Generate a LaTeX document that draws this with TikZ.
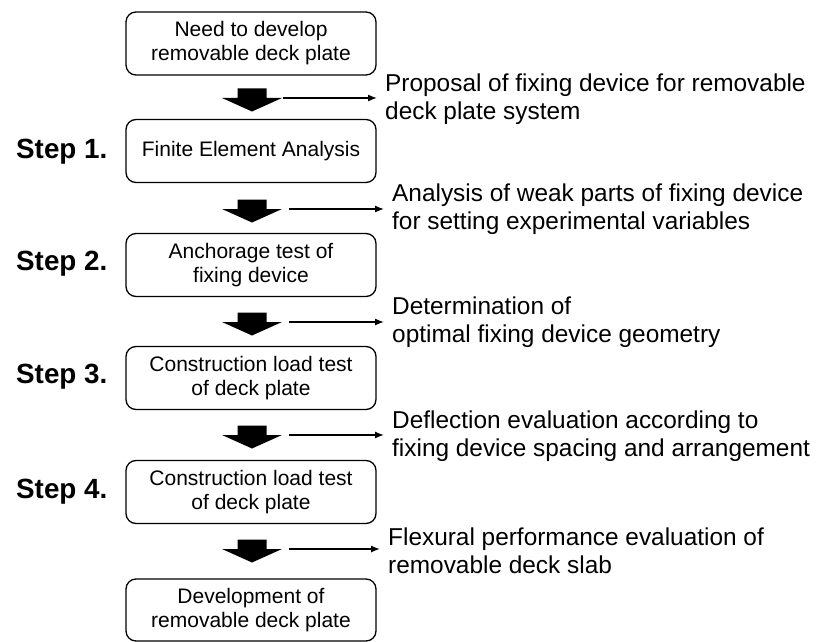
\documentclass[tikz,border=0pt]{standalone}
\usepackage{fontspec}
\setmainfont{Liberation Sans}
\usetikzlibrary{arrows.meta}
\begin{document}
\begin{tikzpicture}[x=1pt,y=-1pt,
  box/.style={draw, line width=1.3pt, rounded corners=10pt, minimum width=250pt,
    minimum height=63pt, align=center, inner sep=0pt, font=\fontsize{21}{24}\selectfont},
  steplabel/.style={anchor=west, inner sep=0pt, font=\bfseries\fontsize{27.8}{30}\selectfont},
  note/.style={anchor=west, inner xsep=8pt, inner ysep=0pt, align=left, font=\fontsize{24.4}{28}\selectfont},
  thinarrow/.style={line width=1.3pt, -{Latex[length=9pt,width=7pt]}, shorten >=0pt},
  bigarrow/.pic={\fill (-14.5,-9.5) -- (14.5,-9.5) -- (14.5,0) -- (30,0) -- (0,13.5) -- (-30,0) -- (-14.5,0) -- cycle;}
]
\useasboundingbox (0,0) rectangle (817,642);

% boxes
\node[box] (b0) at (251,43.5) {Need to develop\\removable deck plate};
\node[box] (b1) at (251,151) {Finite Element Analysis};
\node[box] (b2) at (251,265) {Anchorage test of\\fixing device};
\node[box] (b3) at (251,378) {Construction load test\\of deck plate};
\node[box] (b4) at (251,492) {Construction load test\\of deck plate};
\node[box, minimum height=62pt] (b5) at (251,610) {Development of\\removable deck plate};

% step labels
\node[steplabel] (s1) at (16,152) {Step 1.};
\node[steplabel] (s2) at (16,264) {Step 2.};
\node[steplabel] (s3) at (16,377) {Step 3.};
\node[steplabel] (s4) at (16,492) {Step 4.};

% thick arrows
\coordinate (t1) at (252,98);
\coordinate (t2) at (252,209);
\coordinate (t3) at (252,322);
\coordinate (t4) at (252,435);
\coordinate (t5) at (252,549);
\foreach \t in {t1,t2,t3,t4,t5} { \pic at (\t) {bigarrow}; }

% notes
\node[note] (n1) at (377,99) {Proposal of fixing device for removable\\deck plate system};
\node[note] (n2) at (384,209) {Analysis of weak parts of fixing device\\for setting experimental variables};
\node[note] (n3) at (384,322) {Determination of\\optimal fixing device geometry};
\node[note] (n4) at (384,436) {Deflection evaluation according to\\fixing device spacing and arrangement};
\node[note] (n5) at (380,551) {Flexural performance evaluation of\\removable deck slab};

% thin arrows
\coordinate (a1) at (283,98);
\coordinate (a2) at (289,209);
\coordinate (a3) at (289,322);
\coordinate (a4) at (289,435);
\coordinate (a5) at (289,549);
\draw[thinarrow] (a1) -- (a1 -| n1.west);
\draw[thinarrow] (a2) -- (a2 -| n2.west);
\draw[thinarrow] (a3) -- (a3 -| n3.west);
\draw[thinarrow] (a4) -- (a4 -| n4.west);
\draw[thinarrow] (a5) -- (a5 -| n5.west);
\end{tikzpicture}
\end{document}
